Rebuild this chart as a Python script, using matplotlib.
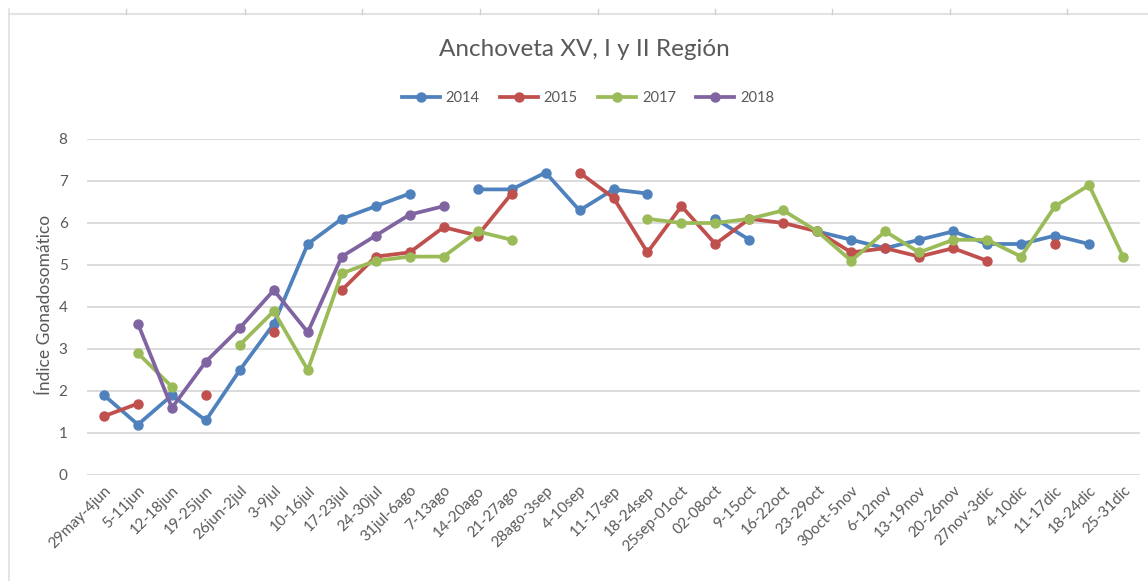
import numpy as np
import matplotlib
matplotlib.use("Agg")
import matplotlib.pyplot as plt
from matplotlib.lines import Line2D

plt.rcParams['font.family'] = ['Lato', 'DejaVu Sans']

categories = ["29may-4jun", "5-11jun", "12-18jun", "19-25jun", "26jun-2jul", "3-9jul",
              "10-16jul", "17-23jul", "24-30jul", "31jul-6ago", "7-13ago", "14-20ago",
              "21-27ago", "28ago-3sep", "4-10sep", "11-17sep", "18-24sep", "25sep-01oct",
              "02-08oct", "9-15oct", "16-22oct", "23-29oct", "30oct-5nov", "6-12nov",
              "13-19nov", "20-26nov", "27nov-3dic", "4-10dic", "11-17dic", "18-24dic",
              "25-31dic"]

N = None
s2014 = [1.9, 1.2, 1.9, 1.3, 2.5, 3.6, 5.5, 6.1, 6.4, 6.7, N, 6.8, 6.8, 7.2, 6.3, 6.8,
         6.7, N, 6.1, 5.6, N, 5.8, 5.6, 5.4, 5.6, 5.8, 5.5, 5.5, 5.7, 5.5, N]
s2015 = [1.4, 1.7, N, 1.9, N, 3.4, N, 4.4, 5.2, 5.3, 5.9, 5.7, 6.7, N, 7.2, 6.6,
         5.3, 6.4, 5.5, 6.1, 6.0, 5.8, 5.3, 5.4, 5.2, 5.4, 5.1, N, 5.5, N, N]
s2017 = [N, 2.9, 2.1, N, 3.1, 3.9, 2.5, 4.8, 5.1, 5.2, 5.2, 5.8, 5.6, N, N, N,
         6.1, 6.0, 6.0, 6.1, 6.3, 5.8, 5.1, 5.8, 5.3, 5.6, 5.6, 5.2, 6.4, 6.9, 5.2]
s2018 = [N, 3.6, 1.6, 2.7, 3.5, 4.4, 3.4, 5.2, 5.7, 6.2, 6.4, N, N, N, N, N,
         N, N, N, N, N, N, N, N, N, N, N, N, N, N, N]

series = [("2014", s2014, "#4F81BD"),
          ("2015", s2015, "#C0504D"),
          ("2017", s2017, "#9BBB59"),
          ("2018", s2018, "#8064A2")]

title = "Anchoveta XV, I y II Región"
ylabel = "Índice Gonadosomático"
yticks = [0, 1, 2, 3, 4, 5, 6, 7, 8]

W, H = 1148, 581
fig = plt.figure(figsize=(W / 100, H / 100), dpi=100)
ax = fig.add_axes([87 / W, 1 - 475 / H, (1140 - 87) / W, (475 - 139) / H])

x = np.arange(len(categories))
for name, vals, col in series:
    y = np.array([np.nan if v is None else v for v in vals], dtype=float)
    ax.plot(x, y, color=col, lw=2.7, marker='o', markersize=6.5,
            solid_capstyle='round', solid_joinstyle='round', label=name)

ax.set_xlim(-0.5, len(categories) - 0.5)
ax.set_ylim(0, 8)
ax.set_yticks(yticks)
ax.grid(axis='y', color='#d9d9d9', lw=1.3)
ax.set_axisbelow(True)
for sp in ax.spines.values():
    sp.set_visible(False)
ax.tick_params(axis='both', length=0, colors='#595959', labelsize=11)
ax.tick_params(axis='y', pad=14)
ax.set_xticks(x)
ax.set_xticklabels(categories, rotation=45, ha='right', va='top',
                   rotation_mode='anchor', fontsize=11, color='#595959')
ax.tick_params(axis='x', pad=6)

fig.text(45 / W, 1 - 305 / H, ylabel, rotation=90, ha='center', va='center',
         fontsize=12.5, color='#595959')
fig.text(584 / W, 1 - 50 / H, title, ha='center', va='center',
         fontsize=17.5, color='#595959')

handles = [Line2D([0], [0], color=c, lw=2.7, marker='o', markersize=6.5) for _, _, c in series]
leg = fig.legend(handles, [s[0] for s in series], loc='center', ncol=4,
                 bbox_to_anchor=(588 / W, 1 - 98 / H), frameon=False,
                 fontsize=10.5, handlelength=2.6, columnspacing=1.4, handletextpad=0.4)
for t in leg.get_texts():
    t.set_color('#595959')

# outer frame / border artifacts
fig.add_artist(Line2D([9 / W, 1], [1 - 14 / H, 1 - 14 / H], color='#e3e3e3', lw=1.5,
                      transform=fig.transFigure))
fig.add_artist(Line2D([9 / W, 9 / W], [0, 1 - 9 / H], color='#e0e0e0', lw=1.2,
                      transform=fig.transFigure))
for tx in [126, 245, 362, 480, 598, 715, 832, 950, 1067]:
    fig.add_artist(Line2D([tx / W, tx / W], [1 - 9 / H, 1 - 14 / H], color='#d0d0d0', lw=1,
                          transform=fig.transFigure))

fig.savefig("out.png", dpi=100)
